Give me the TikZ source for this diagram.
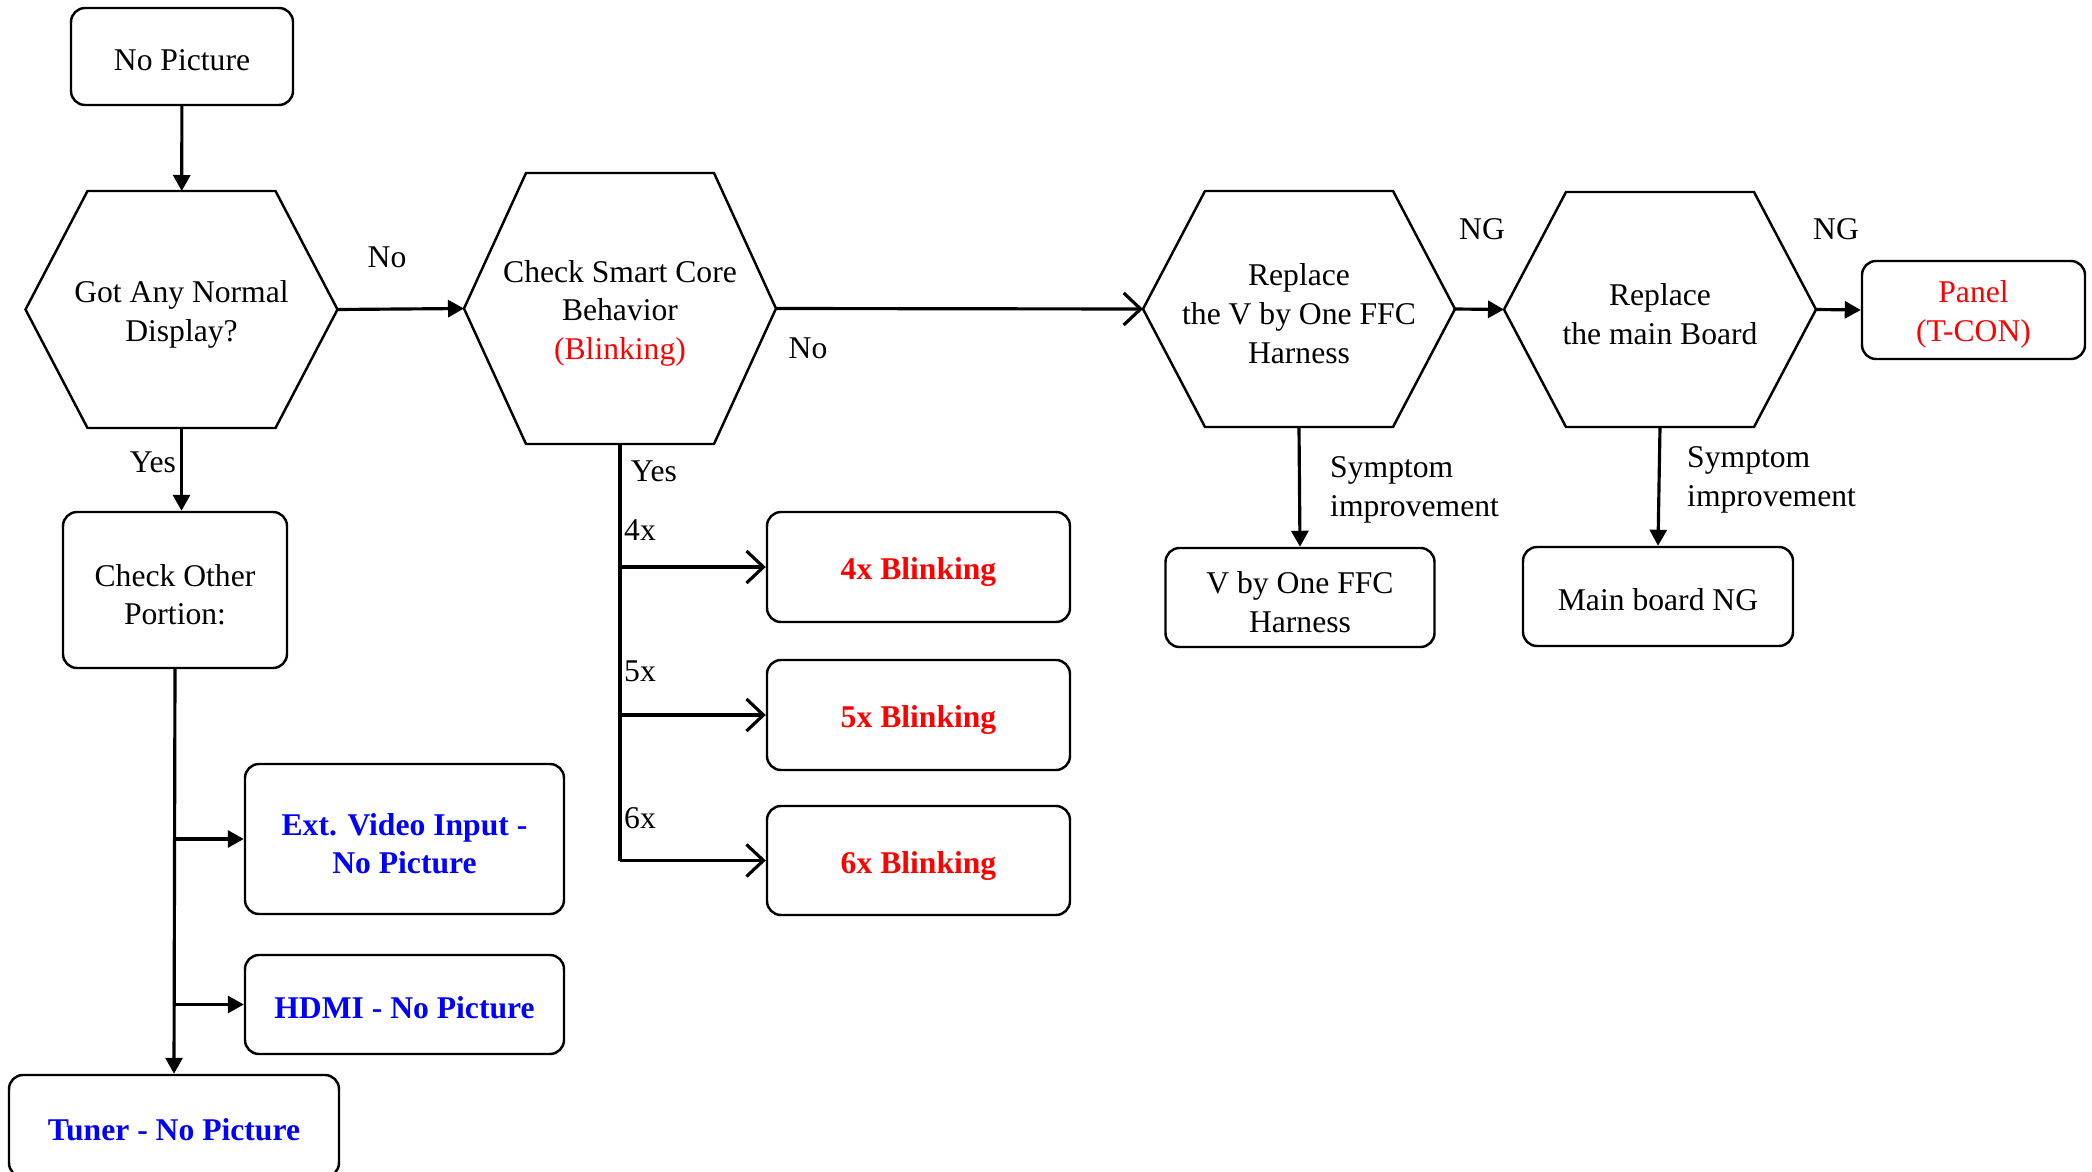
\documentclass[tikz,border=0pt]{standalone}
\usepackage{fontspec}
\setmainfont{Liberation Serif}
\usetikzlibrary{arrows.meta}

% outline of a decision hexagon round a named node
\newcommand{\hexoutline}[1]{%
  \draw ([xshift=0.62cm]#1.north west) -- ([xshift=-0.62cm]#1.north east) -- (#1.east)
    -- ([xshift=-0.62cm]#1.south east) -- ([xshift=0.62cm]#1.south west) -- (#1.west) -- cycle;}
% taller first line, so that multi-line texts sit a little lower
\newcommand{\lift}{\rule{0pt}{8.9pt}}

\begin{document}
\begin{tikzpicture}[line width=0.7pt, font=\fontsize{9}{11}\selectfont,
  box/.style={draw, rounded corners=0.14cm, align=center, inner sep=0pt,
    execute at begin node={\rule{0pt}{8.3pt}}},
  redbox/.style={box, text=red, font=\fontsize{9}{11}\selectfont\bfseries,
    execute at begin node={\rule{0pt}{9.2pt}}},
  bluebox/.style={box, text=blue, font=\fontsize{9}{11}\selectfont\bfseries},
  hexnode/.style={minimum width=3.12cm, align=center, inner sep=0pt, outer sep=0pt},
  lbl/.style={inner sep=0pt},
  arr/.style={line width=0.9pt, -{Triangle[length=0.16cm,width=0.17cm]}},
  barb/.style={line width=0.9pt, -{Straight Barb[length=0.17cm,width=0.32cm]}}]
\useasboundingbox (0,0) rectangle (20.92,-11.72);

% main row
\node[box, minimum width=2.22cm, minimum height=0.97cm] (nopic) at (1.82,-0.565) {No Picture};
\node[hexnode, minimum height=2.37cm] (normal) at (1.815,-3.095) {\lift Got Any Normal\\Display?};
\node[hexnode, minimum height=2.71cm] (smart) at (6.20,-3.085)
  {\lift Check Smart Core\\Behavior\\\textcolor{red}{(Blinking)}};
\node[hexnode, minimum height=2.36cm] (vbyone) at (12.99,-3.09) {\lift Replace\\the V by One FFC\\Harness};
\node[hexnode, minimum height=2.35cm] (mainbd) at (16.60,-3.095) {\lift Replace\\the main Board};
\node[box, text=red, minimum width=2.23cm, minimum height=0.98cm] (panel) at (19.735,-3.10) {\lift Panel\\(T-CON)};
\hexoutline{normal}
\hexoutline{smart}
\hexoutline{vbyone}
\hexoutline{mainbd}

% results
\node[box, minimum width=2.69cm, minimum height=0.99cm] (vbores) at (13.0,-5.975) {\lift V by One FFC\\Harness};
\node[box, minimum width=2.70cm, minimum height=0.99cm] (mbres) at (16.58,-5.965) {Main board NG};
\node[box, minimum width=2.24cm, minimum height=1.56cm] (other) at (1.75,-5.90) {\lift Check Other\\Portion:};
\node[redbox, minimum width=3.03cm, minimum height=1.10cm] (blink4) at (9.185,-5.67) {4x Blinking};
\node[redbox, minimum width=3.03cm, minimum height=1.10cm] (blink5) at (9.185,-7.15) {5x Blinking};
\node[redbox, minimum width=3.03cm, minimum height=1.09cm] (blink6) at (9.185,-8.605) {6x Blinking};
\node[bluebox, minimum width=3.19cm, minimum height=1.50cm] (extvid) at (4.045,-8.39) {\lift Ext. Video Input -\\No Picture};
\node[bluebox, minimum width=3.19cm, minimum height=0.99cm] (hdmi) at (4.045,-10.045) {HDMI - No Picture};
\node[bluebox, minimum width=3.30cm, minimum height=1.02cm] (tuner) at (1.74,-11.26) {Tuner - No Picture};

% connectors
\draw[arr] (nopic) -- (normal);
\draw[arr] (normal.east) -- (smart.west);
\draw[arr] (normal.south) -- (normal.south |- other.north);
\draw[barb] (smart.east) -- (vbyone.west);
\draw[arr] (vbyone.east) -- (mainbd.west);
\draw[arr] (mainbd.east) -- (panel.west);
\draw[arr] (vbyone.south) -- (vbores.north);
\draw[arr] (mainbd.south) -- (mbres.north);
\draw[line width=0.9pt] (smart.south) -- (smart.south |- blink6.west);
\foreach \b in {blink4,blink5,blink6}
  \draw[barb] (smart.south |- \b.west) -- (\b.west);
\draw[arr] (other.south) -- (tuner.north);
\draw[arr] (other.south |- extvid.west) -- (extvid.west);
\draw[arr] (other.south |- hdmi.west) -- (hdmi.west);

% labels
\node[lbl] (no1) at (3.87,-2.57) {No};
\node[lbl] (yes1) at (1.53,-4.62) {Yes};
\node[lbl] (no2) at (8.08,-3.48) {No};
\node[lbl] (yes2) at (6.54,-4.71) {Yes};
\node[lbl] (l4x) at (6.40,-5.30) {4x};
\node[lbl] (l5x) at (6.40,-6.71) {5x};
\node[lbl] (l6x) at (6.40,-8.18) {6x};
\node[lbl] (ng1) at (14.82,-2.29) {NG};
\node[lbl] (ng2) at (18.36,-2.29) {NG};
\node[lbl, anchor=west, align=left] (symp1) at (13.29,-4.90) {Symptom\\improvement};
\node[lbl, anchor=west, align=left] (symp2) at (16.86,-4.80) {Symptom\\improvement};
\end{tikzpicture}
\end{document}
